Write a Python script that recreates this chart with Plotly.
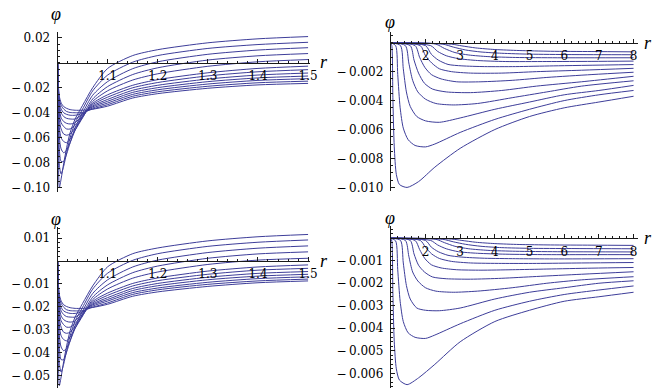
import plotly.graph_objects as go

W, H = 672, 392
LINE = '#3d3d99'
AXC = '#1a1a1a'
FONT = 'DejaVu Serif'
LFONT = 'Liberation Serif'
M = '\u2212\u2009'  # minus sign with thin gap, as in the reference labels

# ---------------- data ----------------
R_LEFT = [1.0, 1.0015, 1.0035, 1.007, 1.012, 1.018, 1.025, 1.035, 1.05, 1.07,
          1.1, 1.15, 1.2, 1.3, 1.4, 1.5]

PHI_TL = [
    [0, -0.075, -0.100, -0.093, -0.081, -0.068, -0.056, -0.045, -0.034, -0.020, -0.0045, 0.0058, 0.0105, 0.016, 0.0192, 0.021],
    [0, -0.055, -0.082, -0.089, -0.083, -0.072, -0.060, -0.048, -0.037, -0.0225, -0.0098, 0.0005, 0.0058, 0.0115, 0.0146, 0.0164],
    [0, -0.045, -0.070, -0.079, -0.079, -0.073, -0.064, -0.052, -0.040, -0.026, -0.015, -0.0047, 0.0008, 0.0068, 0.0102, 0.0121],
    [0, -0.040, -0.060, -0.069, -0.072, -0.070, -0.064, -0.054, -0.0425, -0.029, -0.019, -0.0094, -0.0040, 0.0022, 0.0056, 0.0074],
    [0, -0.035, -0.052, -0.060, -0.063, -0.064, -0.061, -0.054, -0.044, -0.031, -0.0224, -0.0138, -0.0088, -0.0028, 0.0008, 0.0026],
    [0, -0.031, -0.046, -0.053, -0.057, -0.058, -0.057, -0.052, -0.0435, -0.0325, -0.0256, -0.0180, -0.0135, -0.0080, -0.0045, -0.0027],
    [0, -0.028, -0.041, -0.048, -0.051, -0.053, -0.053, -0.050, -0.0425, -0.0335, -0.0275, -0.0200, -0.0158, -0.0105, -0.0072, -0.0055],
    [0, -0.025, -0.037, -0.044, -0.047, -0.0485, -0.049, -0.048, -0.0415, -0.0345, -0.0293, -0.0220, -0.0180, -0.0130, -0.0098, -0.0082],
    [0, -0.023, -0.034, -0.040, -0.043, -0.0445, -0.045, -0.045, -0.041, -0.0353, -0.0308, -0.0237, -0.0199, -0.0151, -0.0121, -0.0106],
    [0, -0.021, -0.031, -0.037, -0.040, -0.0413, -0.042, -0.042, -0.0405, -0.0362, -0.0322, -0.0253, -0.0216, -0.0170, -0.0141, -0.0127],
    [0, -0.019, -0.029, -0.034, -0.037, -0.039, -0.0398, -0.040, -0.0398, -0.037, -0.0335, -0.0268, -0.0232, -0.0188, -0.0160, -0.0147],
    [0, -0.018, -0.027, -0.032, -0.035, -0.0365, -0.0375, -0.038, -0.038, -0.0372, -0.0347, -0.0282, -0.0247, -0.0204, -0.0177, -0.0165],
]

PHI_BL = [
    [0, -0.0409, -0.0545, -0.0507, -0.0441, -0.0371, -0.0305, -0.0245, -0.0185, -0.0109, -0.0025, 0.0032, 0.0057, 0.0088, 0.0106, 0.0116],
    [0, -0.0300, -0.0447, -0.0485, -0.0452, -0.0392, -0.0327, -0.0262, -0.0202, -0.0123, -0.0053, 0.0003, 0.0032, 0.0064, 0.0082, 0.0092],
    [0, -0.0245, -0.0382, -0.0431, -0.0431, -0.0398, -0.0349, -0.0283, -0.0218, -0.0142, -0.0082, -0.0026, 0.0004, 0.0037, 0.0056, 0.0066],
    [0, -0.0218, -0.0327, -0.0376, -0.0392, -0.0382, -0.0349, -0.0294, -0.0232, -0.0158, -0.0104, -0.0051, -0.0022, 0.0012, 0.0031, 0.0040],
    [0, -0.0191, -0.0283, -0.0327, -0.0343, -0.0349, -0.0332, -0.0294, -0.0240, -0.0169, -0.0122, -0.0075, -0.0048, -0.0015, 0.0004, 0.0012],
    [0, -0.0169, -0.0251, -0.0289, -0.0311, -0.0316, -0.0311, -0.0283, -0.0237, -0.0177, -0.0140, -0.0098, -0.0074, -0.0044, -0.0026, -0.0017],
    [0, -0.0153, -0.0223, -0.0262, -0.0278, -0.0289, -0.0289, -0.0273, -0.0232, -0.0183, -0.0150, -0.0109, -0.0086, -0.0058, -0.0040, -0.0032],
    [0, -0.0136, -0.0202, -0.0240, -0.0256, -0.0264, -0.0267, -0.0262, -0.0226, -0.0188, -0.0160, -0.0120, -0.0098, -0.0071, -0.0054, -0.0046],
    [0, -0.0125, -0.0185, -0.0218, -0.0234, -0.0243, -0.0245, -0.0245, -0.0223, -0.0192, -0.0168, -0.0129, -0.0108, -0.0082, -0.0066, -0.0058],
    [0, -0.0114, -0.0169, -0.0202, -0.0218, -0.0225, -0.0229, -0.0229, -0.0221, -0.0197, -0.0175, -0.0138, -0.0118, -0.0093, -0.0077, -0.0069],
    [0, -0.0104, -0.0158, -0.0185, -0.0202, -0.0213, -0.0217, -0.0218, -0.0217, -0.0202, -0.0183, -0.0146, -0.0126, -0.0102, -0.0087, -0.0079],
    [0, -0.0098, -0.0147, -0.0174, -0.0191, -0.0199, -0.0204, -0.0207, -0.0207, -0.0203, -0.0189, -0.0154, -0.0135, -0.0111, -0.0095, -0.0087],
]

R_RIGHT = [
    [1, 1.03, 1.06, 1.1, 1.16, 1.25, 1.47, 1.8, 2.27, 3.0, 4.0, 5.0, 6.0, 7.0, 8.0],
    [1, 1.14, 1.2, 1.27, 1.36, 1.5, 1.7, 2.0, 2.27, 3.0, 4.0, 5.0, 6.0, 7.0, 8.0],
    [1, 1.28, 1.36, 1.45, 1.56, 1.75, 2.0, 2.4, 3.0, 4.0, 5.0, 6.0, 7.0, 8.0],
    [1, 1.42, 1.52, 1.63, 1.78, 2.0, 2.3, 2.8, 3.5, 4.5, 5.5, 6.5, 8.0],
    [1, 1.56, 1.67, 1.8, 1.97, 2.2, 2.6, 3.3, 4.2, 5.2, 6.5, 8.0],
    [1, 1.7, 1.83, 1.98, 2.17, 2.45, 2.9, 3.6, 4.5, 5.5, 6.8, 8.0],
    [1, 1.85, 2.0, 2.18, 2.4, 2.75, 3.3, 4.2, 5.2, 6.5, 8.0],
    [1, 2.0, 2.17, 2.37, 2.65, 3.05, 3.7, 4.6, 5.7, 8.0],
    [1, 2.15, 2.35, 2.6, 2.95, 3.5, 4.3, 5.5, 6.8, 8.0],
    [1, 2.3, 2.55, 2.85, 3.25, 3.8, 4.6, 5.8, 8.0],
    [1, 2.5, 2.8, 3.15, 3.6, 4.2, 5.0, 6.2, 8.0],
    [1, 2.75, 3.05, 3.45, 4.0, 4.7, 5.6, 6.8, 8.0],
]

PHI_TR = [
    [0, -0.0002, -0.0038, -0.0072, -0.0091, -0.0098, -0.0100, -0.0096, -0.0086, -0.0073, -0.0060, -0.0051, -0.0045, -0.0041, -0.0037],
    [0, -0.0002, -0.0022, -0.0045, -0.0059, -0.0067, -0.0071, -0.0072, -0.0070, -0.0062, -0.0053, -0.0046, -0.0040, -0.0036, -0.0033],
    [0, -0.0002, -0.0018, -0.0034, -0.0044, -0.0051, -0.0054, -0.0055, -0.0052, -0.0046, -0.0041, -0.0036, -0.0033, -0.00295],
    [0, -0.0002, -0.0014, -0.0026, -0.0034, -0.0039, -0.0042, -0.0043, -0.0042, -0.0038, -0.0034, -0.0030, -0.00263],
    [0, -0.0002, -0.0012, -0.0021, -0.0028, -0.0032, -0.0034, -0.00345, -0.0033, -0.0030, -0.0027, -0.00232],
    [0, -0.0002, -0.0010, -0.0017, -0.0022, -0.0025, -0.0027, -0.0027, -0.0026, -0.0024, -0.0022, -0.00204],
    [0, -0.0002, -0.0009, -0.0014, -0.0018, -0.0020, -0.0021, -0.0021, -0.0020, -0.0019, -0.00177],
    [0, -0.0002, -0.0008, -0.0012, -0.0015, -0.0016, -0.00165, -0.00165, -0.0016, -0.00151],
    [0, -0.0002, -0.0006, -0.0009, -0.0011, -0.00123, -0.0013, -0.0013, -0.00129, -0.00127],
    [0, -0.0001, -0.0004, -0.00068, -0.00085, -0.00096, -0.00102, -0.00104, -0.00104],
    [0, -0.0001, -0.0003, -0.0005, -0.00064, -0.00073, -0.00079, -0.00082, -0.00083],
    [0, -0.0001, -0.00022, -0.00036, -0.00047, -0.00054, -0.00059, -0.00061, -0.00063],
]

PHI_BR = [
    [0, -0.00013, -0.0024, -0.0046, -0.0058, -0.0063, -0.0065, -0.0062, -0.0056, -0.0046, -0.0037, -0.0032, -0.0028, -0.0026, -0.0024],
    [0, -0.00012, -0.0014, -0.0028, -0.0037, -0.0042, -0.0044, -0.00445, -0.0043, -0.0038, -0.0032, -0.0028, -0.0025, -0.0023, -0.00212],
    [0, -0.0001, -0.0011, -0.0021, -0.0027, -0.0031, -0.0032, -0.00322, -0.0031, -0.0027, -0.0024, -0.0022, -0.0020, -0.00189],
    [0, -0.0001, -0.0008, -0.0015, -0.0019, -0.0022, -0.00235, -0.0024, -0.00235, -0.0022, -0.0020, -0.00185, -0.00171],
    [0, -0.0001, -0.0007, -0.0012, -0.0015, -0.00172, -0.0018, -0.00182, -0.00178, -0.0017, -0.0016, -0.00149],
    [0, -0.0001, -0.0005, -0.0009, -0.00118, -0.00132, -0.0014, -0.00142, -0.0014, -0.00137, -0.00133, -0.0013],
    [0, -0.0001, -0.0004, -0.0007, -0.0009, -0.00103, -0.0011, -0.00112, -0.00112, -0.0011, -0.00108],
    [0, -0.0001, -0.0004, -0.0006, -0.00076, -0.00084, -0.00089, -0.00091, -0.00092, -0.00091],
    [0, -0.0001, -0.0003, -0.00047, -0.0006, -0.00067, -0.00071, -0.00073, -0.00073, -0.00073],
    [0, -0.00005, -0.0002, -0.00036, -0.00047, -0.00054, -0.00058, -0.0006, -0.00061],
    [0, -0.00005, -0.00016, -0.00027, -0.00036, -0.00042, -0.00045, -0.00046, -0.00047],
    [0, -0.00004, -0.0001, -0.00018, -0.00024, -0.00028, -0.0003, -0.00031, -0.00032],
]

X_TICKS_LEFT = [1.1, 1.2, 1.3, 1.4, 1.5]
X_LABELS_LEFT = ['1.1', '1.2', '1.3', '1.4', '1.5']
X_TICKS_RIGHT = [2, 3, 4, 5, 6, 7, 8]
X_LABELS_RIGHT = ['2', '3', '4', '5', '6', '7', '8']
Y_TICKS_TL = [0.02, -0.02, -0.04, -0.06, -0.08, -0.10]
Y_LABELS_TL = ['0.02', M + '0.02', M + '0.04', M + '0.06', M + '0.08', M + '0.10']
Y_TICKS_TR = [-0.002, -0.004, -0.006, -0.008, -0.010]
Y_LABELS_TR = [M + '0.002', M + '0.004', M + '0.006', M + '0.008', M + '0.010']
Y_TICKS_BL = [0.01, -0.01, -0.02, -0.03, -0.04, -0.05]
Y_LABELS_BL = ['0.01', M + '0.01', M + '0.02', M + '0.03', M + '0.04', M + '0.05']
Y_TICKS_BR = [-0.001, -0.002, -0.003, -0.004, -0.005, -0.006]
Y_LABELS_BR = [M + '0.001', M + '0.002', M + '0.003', M + '0.004', M + '0.005', M + '0.006']

# ---------------- layout of panels (pixels) ----------------
panels = [
    dict(id='', xpx=(58.3, 313.3), ypx=(31.6, 193.5), xr=(1.0, 1.503), yr=(-0.1035, 0.0245),
         xt=X_TICKS_LEFT, xl=X_LABELS_LEFT, xm=0.02, yt=Y_TICKS_TL, yl=Y_LABELS_TL, ym=0.005,
         phi='TL', label_phi=(57, 13), label_r=(328, 62)),
    dict(id='2', xpx=(395.5, 646.0), ypx=(31.7, 192.5), xr=(1.0, 8.137), yr=(-0.01025, 0.00072),
         xt=X_TICKS_RIGHT, xl=X_LABELS_RIGHT, xm=0.2, yt=Y_TICKS_TR, yl=Y_LABELS_TR, ym=0.0005,
         phi='TR', label_phi=(395, 21), label_r=(656, 43)),
    dict(id='3', xpx=(58.3, 313.3), ypx=(229.3, 392.0), xr=(1.0, 1.503), yr=(-0.0555, 0.0147),
         xt=X_TICKS_LEFT, xl=X_LABELS_LEFT, xm=0.02, yt=Y_TICKS_BL, yl=Y_LABELS_BL, ym=0.002,
         phi='BL', label_phi=(57, 221), label_r=(328, 263)),
    dict(id='4', xpx=(395.5, 646.0), ypx=(227.7, 392.0), xr=(1.0, 8.137), yr=(-0.00665, 0.00055),
         xt=X_TICKS_RIGHT, xl=X_LABELS_RIGHT, xm=0.2, yt=Y_TICKS_BR, yl=Y_LABELS_BR, ym=0.0002,
         phi='BR', label_phi=(395, 220), label_r=(656, 240)),
]

series = {
    'TL': ([R_LEFT] * len(PHI_TL), PHI_TL),
    'BL': ([R_LEFT] * len(PHI_BL), PHI_BL),
    'TR': (R_RIGHT, PHI_TR),
    'BR': (R_RIGHT, PHI_BR),
}

fig = go.Figure()
annotations = []
for p in panels:
    xs, ys = series[p['phi']]
    for r, phi in zip(xs, ys):
        assert len(r) == len(phi)
        fig.add_trace(go.Scatter(
            x=r, y=phi, mode='lines',
            line=dict(color=LINE, width=1, shape='spline', smoothing=0.7),
            xaxis='x' + p['id'], yaxis='y' + p['id'],
            showlegend=False, hoverinfo='skip'))

    xd = [p['xpx'][0] / W, p['xpx'][1] / W]
    yd = [1 - p['ypx'][1] / H, 1 - p['ypx'][0] / H]
    y0, y1 = p['yr']
    pos = yd[0] + (0 - y0) / (y1 - y0) * (yd[1] - yd[0])
    common = dict(showline=True, linecolor=AXC, linewidth=1, ticks='inside', ticklen=4,
                  tickwidth=1, tickcolor=AXC, showgrid=False, zeroline=False,
                  tickfont=dict(family=FONT, size=12, color='black'), tickmode='array')
    fig.layout['xaxis' + p['id']] = dict(
        domain=xd, range=list(p['xr']), anchor='free', position=pos,
        tickvals=p['xt'], ticktext=p['xl'], ticklabelstandoff=2,
        minor=dict(ticks='inside', ticklen=2, tickcolor=AXC, tickmode='linear',
                   tick0=p['xr'][0], dtick=p['xm'], showgrid=False),
        **common)
    fig.layout['yaxis' + p['id']] = dict(
        domain=yd, range=list(p['yr']), anchor='x' + p['id'],
        tickvals=p['yt'], ticktext=p['yl'], ticklabelstandoff=4,
        minor=dict(ticks='inside', ticklen=2, tickcolor=AXC, tickmode='linear',
                   tick0=0, dtick=p['ym'], showgrid=False),
        **common)
    annotations.append(dict(x=p['label_phi'][0] / W, y=1 - p['label_phi'][1] / H,
                            xref='paper', yref='paper', text='<i>\u03c6</i>', showarrow=False,
                            font=dict(family=LFONT, size=18, color='black'),
                            xanchor='center', yanchor='middle'))
    annotations.append(dict(x=p['label_r'][0] / W, y=1 - p['label_r'][1] / H,
                            xref='paper', yref='paper', text='<i>r</i>', showarrow=False,
                            font=dict(family=LFONT, size=18, color='black'),
                            xanchor='center', yanchor='middle'))

fig.update_layout(width=W, height=H, margin=dict(l=0, r=0, t=0, b=0),
                  paper_bgcolor='white', plot_bgcolor='white',
                  annotations=annotations, showlegend=False, hovermode=False)
fig.write_html('out.html', config={'displayModeBar': False, 'staticPlot': True},
               post_script="document.body.style.margin='0';document.body.style.padding='0';"
                           "document.body.style.overflow='hidden';")
